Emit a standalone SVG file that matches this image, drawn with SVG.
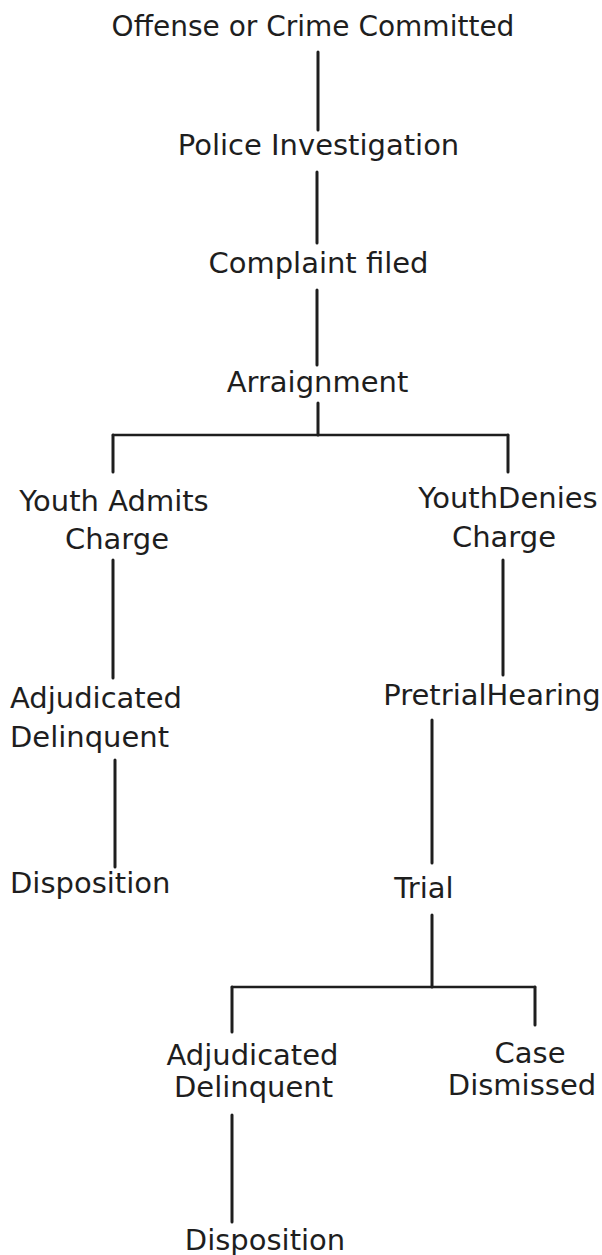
<svg xmlns="http://www.w3.org/2000/svg" width="602" height="1255" viewBox="0 0 602 1255">
<style>
text{font-family:"DejaVu Sans","Liberation Sans",sans-serif;font-size:29px;fill:#1e1e1e;text-anchor:middle}
.l{text-anchor:start}
.c line{stroke:#1e1e1e;stroke-width:3;stroke-linecap:round}
.c .h{stroke-width:2.6}
</style>
<rect width="602" height="1255" fill="#fff"/>
<g class="c" id="connectors">
<line x1="318" y1="52" x2="318" y2="130"/>
<line x1="317" y1="172" x2="317" y2="243"/>
<line x1="317" y1="290" x2="317" y2="365"/>
<line x1="318" y1="403" x2="318" y2="435"/>
<line class="h" x1="113" y1="435" x2="508" y2="435"/>
<line x1="113" y1="435" x2="113" y2="472"/>
<line x1="508" y1="435" x2="508" y2="472"/>
<line x1="113" y1="560" x2="113" y2="678"/>
<line x1="115" y1="760" x2="115" y2="867"/>
<line x1="503" y1="560" x2="503" y2="675"/>
<line x1="432" y1="720" x2="432" y2="863"/>
<line x1="432" y1="915" x2="432" y2="987"/>
<line class="h" x1="232" y1="987" x2="535" y2="987"/>
<line x1="232" y1="987" x2="232" y2="1032"/>
<line x1="535" y1="987" x2="535" y2="1025"/>
<line x1="232" y1="1115" x2="232" y2="1222"/>
</g>
<g id="offense"><text x="313" y="36" style="font-size:28px">Offense or Crime Committed</text></g>
<g id="police"><text x="318.5" y="155">Police Investigation</text></g>
<g id="complaint"><text x="318.5" y="273">Complaint filed</text></g>
<g id="arraignment"><text x="317.5" y="392">Arraignment</text></g>
<g id="admits"><text x="114" y="511">Youth Admits</text><text x="117" y="549">Charge</text></g>
<g id="denies"><text x="508" y="508">YouthDenies</text><text x="504" y="547">Charge</text></g>
<g id="adjudicated1"><text class="l" x="10" y="708">Adjudicated</text><text class="l" x="10" y="747">Delinquent</text></g>
<g id="disposition1"><text class="l" x="10" y="893">Disposition</text></g>
<g id="pretrial"><text x="492" y="705">PretrialHearing</text></g>
<g id="trial"><text x="424" y="898">Trial</text></g>
<g id="adjudicated2"><text x="252.5" y="1065">Adjudicated</text><text x="253.5" y="1097">Delinquent</text></g>
<g id="dismissed"><text x="530" y="1063">Case</text><text x="522" y="1095">Dismissed</text></g>
<g id="disposition2"><text x="265" y="1250">Disposition</text></g>
</svg>
